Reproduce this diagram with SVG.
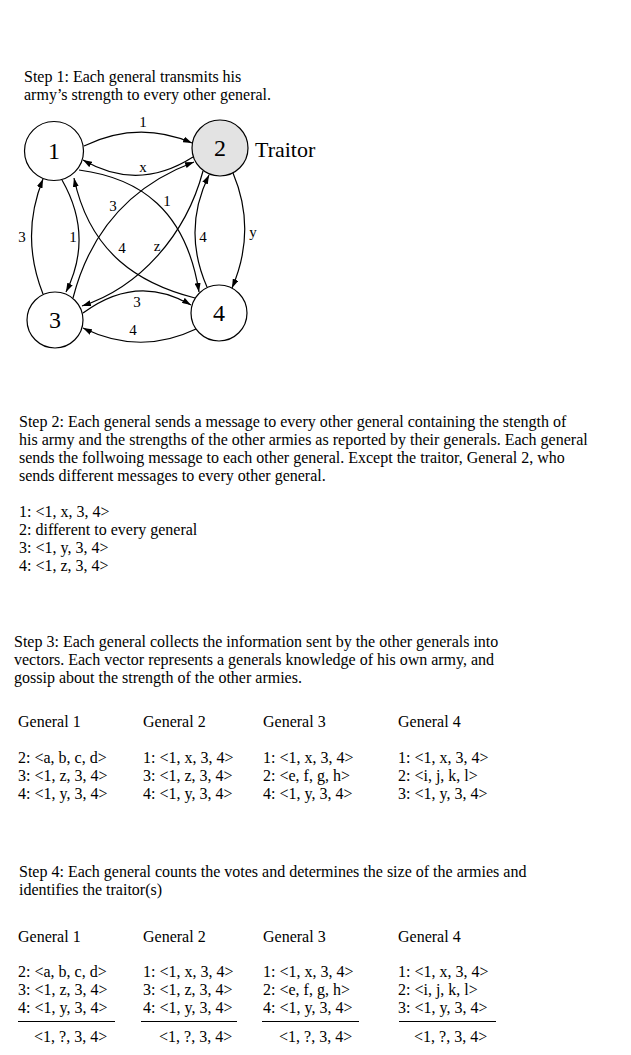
<svg xmlns="http://www.w3.org/2000/svg" width="631" height="1055" viewBox="0 0 631 1055">
<style>
text{font-family:"Liberation Serif","Times New Roman",serif;fill:#000}
.t{font-size:16px}
.n{font-size:24px;text-anchor:middle}
.l{font-size:15px;text-anchor:middle}
.e{fill:none;stroke:#000;stroke-width:1.2;marker-end:url(#ah)}
.c{fill:#fff;stroke:#000;stroke-width:1.2}
.u{stroke:#000;stroke-width:1}
</style>
<defs>
<marker id="ah" markerUnits="userSpaceOnUse" markerWidth="9" markerHeight="6" refX="9" refY="3" orient="auto">
<path d="M0,0 L9,3 L0,6 z" fill="#000"/>
</marker>
</defs>
<rect width="631" height="1055" fill="#fff"/>

<g id="step1-text" class="t">
<text x="24" y="82">Step 1: Each general transmits his</text>
<text x="24" y="100">army’s strength to every other general.</text>
</g>

<g id="connectors">
<path class="e" d="M84 146 Q138 120 192 143"/>
<path class="e" d="M193 157 Q138 192 83 160"/>
<path class="e" d="M62 180 Q94 236 66 292"/>
<path class="e" d="M43 294 Q20 236 43 179"/>
<path class="e" d="M79 170 C140 178 186 210 199 292"/>
<path class="e" d="M195 298 C140 284 90 254 74 178"/>
<path class="e" d="M73 298 C90 232 130 186 194 162"/>
<path class="e" d="M203 171 C186 235 140 287 82 306"/>
<path class="e" d="M233 173 Q257 230 232 288"/>
<path class="e" d="M207 287 Q182 230 209 175"/>
<path class="e" d="M83 313 Q137 273 191 305"/>
<path class="e" d="M196 329 Q140 356 83 328"/>
<text class="l" x="143" y="127">1</text>
<text class="l" x="143" y="172">x</text>
<text class="l" x="22" y="242">3</text>
<text class="l" x="73" y="242">1</text>
<text class="l" x="167" y="206">1</text>
<text class="l" x="122" y="253">4</text>
<text class="l" x="113" y="211">3</text>
<text class="l" x="157" y="251">z</text>
<text class="l" x="203" y="242">4</text>
<text class="l" x="253" y="237">y</text>
<text class="l" x="137" y="307">3</text>
<text class="l" x="133" y="335">4</text>
</g>

<g id="node1"><circle class="c" cx="54" cy="151" r="29.5"/><text class="n" x="54" y="159">1</text></g>
<g id="node2"><circle class="c" cx="220" cy="148" r="28" style="fill:#e3e3e3"/><text class="n" x="220" y="156">2</text></g>
<g id="node3"><circle class="c" cx="55" cy="320" r="28"/><text class="n" x="55" y="328">3</text></g>
<g id="node4"><circle class="c" cx="219" cy="313" r="28"/><text class="n" x="219" y="321">4</text></g>
<g id="traitor"><text x="255" y="157" style="font-size:22px">Traitor</text></g>

<g id="step2" class="t">
<text x="19" y="427">Step 2: Each general sends a message to every other general containing the stength of</text>
<text x="19" y="445">his army and the strengths of the other armies as reported by their generals. Each general</text>
<text x="19" y="463">sends the follwoing message to each other general. Except the traitor, General 2, who</text>
<text x="19" y="481">sends different messages to every other general.</text>
<text x="19" y="517">1: &lt;1, x, 3, 4&gt;</text>
<text x="19" y="535">2: different to every general</text>
<text x="19" y="553">3: &lt;1, y, 3, 4&gt;</text>
<text x="19" y="571">4: &lt;1, z, 3, 4&gt;</text>
</g>

<g id="step3" class="t">
<text x="14" y="647">Step 3: Each general collects the information sent by the other generals into</text>
<text x="14" y="665">vectors. Each vector represents a generals knowledge of his own army, and</text>
<text x="14" y="683">gossip about the strength of the other armies.</text>
<text x="18" y="727">General 1</text>
<text x="143" y="727">General 2</text>
<text x="263" y="727">General 3</text>
<text x="398" y="727">General 4</text>
<text x="18" y="763">2: &lt;a, b, c, d&gt;</text>
<text x="18" y="781">3: &lt;1, z, 3, 4&gt;</text>
<text x="18" y="799">4: &lt;1, y, 3, 4&gt;</text>
<text x="143" y="763">1: &lt;1, x, 3, 4&gt;</text>
<text x="143" y="781">3: &lt;1, z, 3, 4&gt;</text>
<text x="143" y="799">4: &lt;1, y, 3, 4&gt;</text>
<text x="263" y="763">1: &lt;1, x, 3, 4&gt;</text>
<text x="263" y="781">2: &lt;e, f, g, h&gt;</text>
<text x="263" y="799">4: &lt;1, y, 3, 4&gt;</text>
<text x="398" y="763">1: &lt;1, x, 3, 4&gt;</text>
<text x="398" y="781">2: &lt;i, j, k, l&gt;</text>
<text x="398" y="799">3: &lt;1, y, 3, 4&gt;</text>
</g>

<g id="step4" class="t">
<text x="19" y="877">Step 4: Each general counts the votes and determines the size of the armies and</text>
<text x="19" y="895">identifies the traitor(s)</text>
<text x="18" y="942">General 1</text>
<text x="143" y="942">General 2</text>
<text x="263" y="942">General 3</text>
<text x="398" y="942">General 4</text>
<text x="18" y="977">2: &lt;a, b, c, d&gt;</text>
<text x="18" y="995">3: &lt;1, z, 3, 4&gt;</text>
<text x="18" y="1013">4: &lt;1, y, 3, 4&gt;</text>
<text x="143" y="977">1: &lt;1, x, 3, 4&gt;</text>
<text x="143" y="995">3: &lt;1, z, 3, 4&gt;</text>
<text x="143" y="1013">4: &lt;1, y, 3, 4&gt;</text>
<text x="263" y="977">1: &lt;1, x, 3, 4&gt;</text>
<text x="263" y="995">2: &lt;e, f, g, h&gt;</text>
<text x="263" y="1013">4: &lt;1, y, 3, 4&gt;</text>
<text x="398" y="977">1: &lt;1, x, 3, 4&gt;</text>
<text x="398" y="995">2: &lt;i, j, k, l&gt;</text>
<text x="398" y="1013">3: &lt;1, y, 3, 4&gt;</text>
<line class="u" x1="18" y1="1021.5" x2="115" y2="1021.5"/>
<line class="u" x1="141" y1="1021.5" x2="237" y2="1021.5"/>
<line class="u" x1="262" y1="1021.5" x2="359" y2="1021.5"/>
<line class="u" x1="399" y1="1021.5" x2="496" y2="1021.5"/>
<text x="34" y="1042">&lt;1, ?, 3, 4&gt;</text>
<text x="159" y="1042">&lt;1, ?, 3, 4&gt;</text>
<text x="279" y="1042">&lt;1, ?, 3, 4&gt;</text>
<text x="414" y="1042">&lt;1, ?, 3, 4&gt;</text>
</g>
</svg>
